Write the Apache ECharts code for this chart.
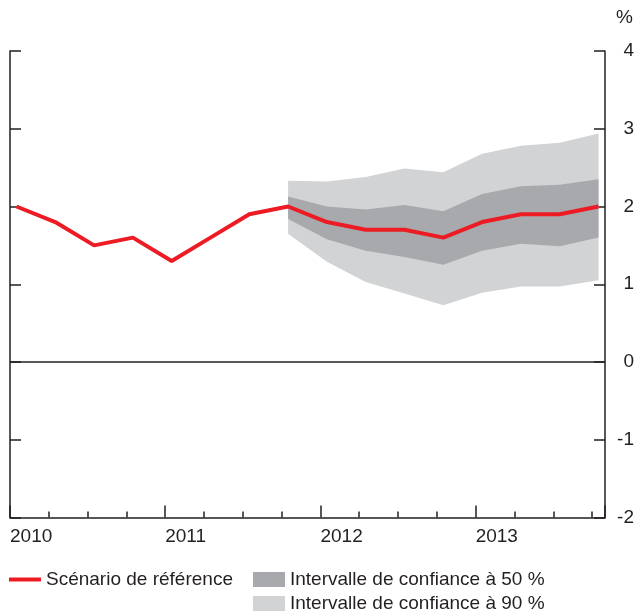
<!DOCTYPE html>
<html>
<head>
<meta charset="utf-8">
<script src="https://cdn.jsdelivr.net/npm/echarts@6/dist/echarts.min.js"></script>
<style>
  html, body { margin: 0; padding: 0; background: #fff; }
  #chart { width: 638px; height: 611px; }
</style>
</head>
<body>
<div id="chart"></div>
<script>
// Quarterly inflation path, 2010T1 – 2013T4 (%)
const quarters = [
  '2010T1', '2010T2', '2010T3', '2010T4',
  '2011T1', '2011T2', '2011T3', '2011T4',
  '2012T1', '2012T2', '2012T3', '2012T4',
  '2013T1', '2013T2', '2013T3', '2013T4'
];
const reference = [2.0, 1.8, 1.5, 1.6, 1.3, 1.6, 1.9, 2.0, 1.8, 1.7, 1.7, 1.6, 1.8, 1.9, 1.9, 2.0];

// Confidence intervals start at the last observed quarter (2011T4)
const bandStart = 7;
const lower90 = [1.65, 1.29, 1.03, 0.88, 0.73, 0.89, 0.97, 0.97, 1.05];
const lower50 = [1.84, 1.58, 1.43, 1.35, 1.25, 1.43, 1.52, 1.49, 1.60];
const upper50 = [2.13, 2.00, 1.96, 2.02, 1.94, 2.16, 2.26, 2.28, 2.35];
const upper90 = [2.33, 2.32, 2.38, 2.49, 2.44, 2.68, 2.78, 2.82, 2.94];

const years = ['2010', '2011', '2012', '2013'];
const yTicks = [-2, -1, 0, 1, 2, 3, 4];

const NAME_REF = 'Scénario de référence';
const NAME_50 = 'Intervalle de confiance à 50 %';
const NAME_90 = 'Intervalle de confiance à 90 %';

const RED = '#ED1C24';
const DARK = '#A7A9AC';
const LIGHT = '#D1D3D4';
const INK = '#231F20';
const FONT = '"Liberation Sans", Arial, Helvetica, sans-serif';

// Each quarter is one unit on x; points sit in the middle of the quarter's first month
const monthOffset = 1 / 6;
const xOf = i => i + monthOffset;

const refData = reference.map((v, i) => [xOf(i), v]);
const band90 = lower90.map((v, k) => [xOf(bandStart + k), v, upper90[k]]);
const band50 = lower50.map((v, k) => [xOf(bandStart + k), v, upper50[k]]);

// One filled polygon per interval: upper edge left→right, lower edge right→left
function bandRenderer(rows, color) {
  return function (params, api) {
    if (params.dataIndex !== 0) return null;
    const upper = rows.map(r => api.coord([r[0], r[2]]));
    const lower = rows.map(r => api.coord([r[0], r[1]])).reverse();
    return {
      type: 'polygon',
      shape: { points: upper.concat(lower) },
      style: { fill: color, stroke: null },
      silent: true
    };
  };
}

const axisLineStyle = { show: true, onZero: false, lineStyle: { color: INK, width: 1.5 } };
const tickStyle = { color: INK, width: 1.5 };
const xMax = quarters.length - 1 + 1 / 3;

const chart = echarts.init(document.getElementById('chart'), null, { renderer: 'canvas' });

chart.setOption({
  animation: false,
  backgroundColor: '#fff',
  textStyle: { fontFamily: FONT },
  grid: { left: 10, right: 33, top: 51, height: 466.5 },
  xAxis: [
    {
      // quarter ticks
      type: 'value', min: 0, max: xMax, interval: 1,
      position: 'bottom',
      axisLine: axisLineStyle,
      axisTick: { show: true, inside: true, length: 6, lineStyle: tickStyle },
      axisLabel: { show: false },
      splitLine: { show: false }
    },
    {
      // year ticks and labels
      type: 'value', min: 0, max: xMax, interval: 4,
      position: 'bottom',
      axisLine: { show: false, onZero: false },
      axisTick: { show: true, inside: true, length: 12, lineStyle: tickStyle },
      axisLabel: {
        show: true, align: 'left', margin: 10,
        color: INK, fontSize: 19, fontFamily: FONT,
        formatter: v => {
          const k = Math.round(v / 4);
          return Math.abs(v - k * 4) < 1e-6 && k < years.length ? years[k] : '';
        }
      },
      splitLine: { show: false }
    }
  ],
  yAxis: [
    {
      type: 'value', min: yTicks[0], max: yTicks[yTicks.length - 1], interval: 1,
      position: 'left',
      axisLine: axisLineStyle,
      axisTick: { show: true, inside: true, length: 11, lineStyle: tickStyle },
      axisLabel: { show: false },
      splitLine: { show: false }
    },
    {
      type: 'value', min: yTicks[0], max: yTicks[yTicks.length - 1], interval: 1,
      position: 'right',
      axisLine: axisLineStyle,
      axisTick: { show: true, inside: true, length: 11, lineStyle: tickStyle },
      axisLabel: { show: true, align: 'right', margin: 29, color: INK, fontSize: 19, fontFamily: FONT },
      splitLine: { show: false }
    }
  ],
  graphic: [
    {
      type: 'text', right: 5, top: 8,
      style: { text: '%', fill: INK, font: '19px ' + FONT }
    }
  ],
  legend: [
    {
      left: 9, top: 570, padding: 0,
      itemWidth: 32, itemHeight: 4,
      textStyle: { color: INK, fontSize: 19, fontFamily: FONT },
      data: [{ name: NAME_REF, icon: 'rect', itemStyle: { color: RED, borderWidth: 0 } }]
    },
    {
      left: 253, top: 570, padding: 0,
      itemWidth: 32, itemHeight: 15,
      textStyle: { color: INK, fontSize: 19, fontFamily: FONT },
      data: [{ name: NAME_50, icon: 'rect', itemStyle: { color: DARK, borderWidth: 0 } }]
    },
    {
      left: 253, top: 594, padding: 0,
      itemWidth: 32, itemHeight: 15,
      textStyle: { color: INK, fontSize: 19, fontFamily: FONT },
      data: [{ name: NAME_90, icon: 'rect', itemStyle: { color: LIGHT, borderWidth: 0 } }]
    }
  ],
  series: [
    {
      name: NAME_90, type: 'custom', data: band90, color: LIGHT,
      encode: { x: 0, y: [1, 2] },
      renderItem: bandRenderer(band90, LIGHT), z: 1
    },
    {
      name: NAME_50, type: 'custom', data: band50, color: DARK,
      encode: { x: 0, y: [1, 2] },
      renderItem: bandRenderer(band50, DARK), z: 2
    },
    {
      name: NAME_REF, type: 'line', data: refData, color: RED,
      symbol: 'none', lineStyle: { color: RED, width: 4 }, z: 5,
      markLine: {
        silent: true, symbol: 'none', label: { show: false },
        lineStyle: { color: INK, width: 1.5, type: 'solid' },
        data: [{ yAxis: 0 }]
      }
    }
  ]
});
</script>
</body>
</html>
